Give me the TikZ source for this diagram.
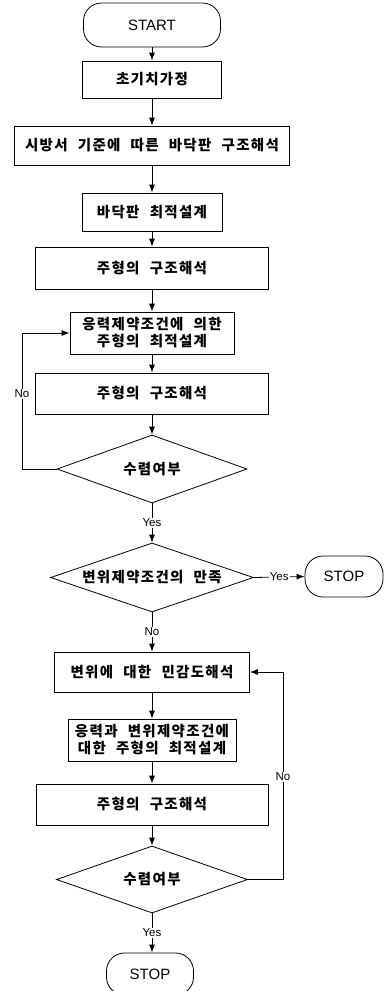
\documentclass[tikz,border=0pt]{standalone}
\usepackage{fontspec}
\setmainfont{Liberation Sans}
\newfontfamily\kr[LetterSpace=9,WordSpace=2.2]{Noto Sans CJK KR}
\usetikzlibrary{shapes.geometric,arrows.meta}
\begin{document}
\begin{tikzpicture}[x=1pt,y=-1pt,line width=0.8pt,
  box/.style={draw,rectangle,inner sep=0pt,align=center,font=\fontsize{14.5}{17}\kr\bfseries},
  term/.style={draw,rectangle,rounded corners=18pt,inner sep=0pt,font=\fontsize{15}{17}\selectfont},
  dec/.style={draw,diamond,inner sep=0pt,shape aspect=2.8,font=\fontsize{14.5}{17}\kr\bfseries},
  arr/.style={-{Latex[length=8pt,width=6pt]}},
  lab/.style={fill=white,inner sep=1pt,font=\fontsize{11.5}{13}\selectfont}]
\useasboundingbox (0,0) rectangle (384,991);

\node[term,minimum width=137pt,minimum height=44pt] (start) at (152,25) {START};
\node[box,minimum width=139pt,minimum height=37pt] (b1) at (152,79.5) {초기치가정};
\node[box,minimum width=275pt,minimum height=39pt] (b2) at (152,145.5) {시방서 기준에 따른 바닥판 구조해석};
\node[box,minimum width=140pt,minimum height=38pt] (b3) at (152,212) {바닥판 최적설계};
\node[box,minimum width=233pt,minimum height=42pt] (b4) at (152,268) {주형의 구조해석};
\node[box,minimum width=164pt,minimum height=42pt] (b5) at (152,333) {응력제약조건에 의한\\주형의 최적설계};
\node[box,minimum width=233pt,minimum height=41pt] (b6) at (152,393.5) {주형의 구조해석};
\node[dec,minimum width=190pt,minimum height=68pt] (d1) at (152,469) {수렴여부};
\node[dec,minimum width=203pt,minimum height=69pt] (d2) at (152,577.5) {변위제약조건의 만족};
\node[term,minimum width=78pt,minimum height=41pt] (stop1) at (344,576.5) {STOP};
\node[box,minimum width=195pt,minimum height=40pt] (b7) at (152,672) {변위에 대한 민감도해석};
\node[box,minimum width=168pt,minimum height=42pt] (b8) at (152,740) {응력과 변위제약조건에\\대한 주형의 최적설계};
\node[box,minimum width=232pt,minimum height=41pt] (b9) at (152,804.5) {주형의 구조해석};
\node[dec,minimum width=191pt,minimum height=67pt] (d3) at (152,879.5) {수렴여부};
\node[term,minimum width=87pt,minimum height=42pt] (stop3) at (150,974) {STOP};

\draw[arr] (start) -- (b1);
\draw[arr] (b1) -- (b2);
\draw[arr] (b2) -- (b3);
\draw[arr] (b3) -- (b4);
\draw[arr] (b4) -- (b5);
\draw[arr] (b5) -- (b6);
\draw[arr] (b6) -- (d1);
\draw[arr] (d1.south) -- node[lab] {Yes} (d2.north);
\draw[arr] (d2.east) -- node[lab] {Yes} (stop1.west);
\draw[arr] (d2.south) -- node[lab] {No} (b7.north);
\draw[arr] (b7) -- (b8);
\draw[arr] (b8) -- (b9);
\draw[arr] (b9) -- (d3);
\draw[arr] (d3.south) -- node[lab] {Yes} (stop3.north -| d3.south);

\coordinate (l1) at (22,469);
\draw[arr] (d1.west) -- (l1) |- (b5.west);
\node[lab] (no1) at (22,394) {No};
\coordinate (r1) at (283,879.5);
\draw[arr] (d3.east) -- (r1) |- (b7.east);
\node[lab] (no2) at (283,777) {No};
\end{tikzpicture}
\end{document}
